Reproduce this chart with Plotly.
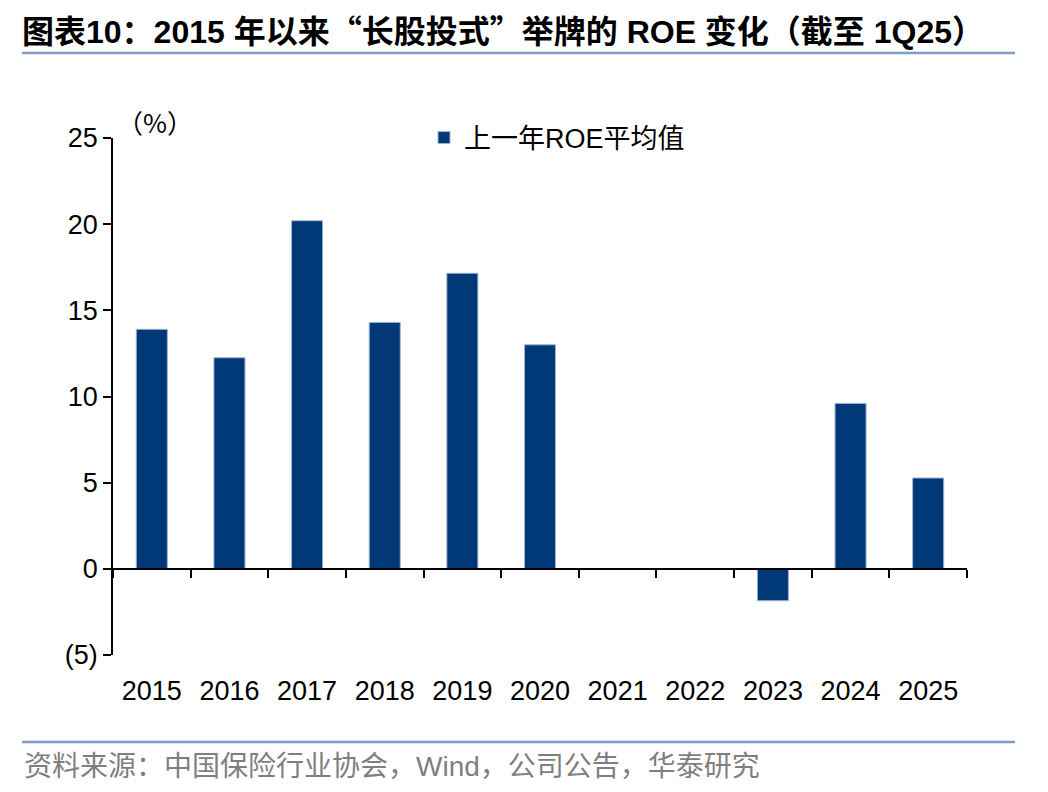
import plotly.graph_objects as go

years = ["2015", "2016", "2017", "2018", "2019", "2020", "2021", "2022", "2023", "2024", "2025"]
roe = [13.9, 12.25, 20.2, 14.3, 17.15, 13.0, None, None, -1.85, 9.6, 5.27]
series_name = "上一年ROE平均值"
y_tickvals = [-5, 0, 5, 10, 15, 20, 25]
y_ticktext = ["(5)", "0", "5", "10", "15", "20", "25"]
CJK = "Noto Sans CJK SC, Liberation Sans, sans-serif"
title_text = ("图表10：2015 年以来<span style=\"font-family:'Noto Sans CJK SC'\">“</span>长股投式"
              "<span style=\"font-family:'Noto Sans CJK SC'\">”</span>举牌的 ROE 变化（截至 1Q25）")
source_text = "资料来源：中国保险行业协会，Wind，公司公告，华泰研究"
unit_text = "（%）"

OFF = 8  # page body margin
W, H = 1048 - OFF, 792 - OFF
L, R, T, B = 113 - OFF, 81, 138 - OFF, 137
pw, ph = W - L - R, H - T - B

def px(x):
    return (x - OFF - L) / pw

def py(y):
    return (H - B - (y - OFF)) / ph

FONT = "Liberation Sans, Arial, Noto Sans CJK SC, sans-serif"
BAR = "#003878"

fig = go.Figure()
fig.add_trace(go.Bar(
    x=years, y=roe, name=series_name,
    marker=dict(color=BAR, line=dict(color="#9fb4d2", width=1)),
    width=0.4, showlegend=True,
))
fig.add_trace(go.Scatter(
    x=years, y=roe, xaxis="x2", mode="none", showlegend=False, hoverinfo="skip",
))

fig.update_layout(
    width=W, height=H,
    margin=dict(l=L, r=R, t=T, b=B),
    paper_bgcolor="white", plot_bgcolor="white",
    font=dict(family=FONT, color="black", size=27),
    title=dict(
        text=title_text, x=(22 - OFF) / W, xanchor="left", xref="container",
        y=1 - (32 - OFF) / H, yanchor="middle", yref="container",
        font=dict(family=FONT, size=32, color="black", weight="bold"),
    ),
    xaxis=dict(
        type="category", range=[-0.5, 10.5], showline=False, showgrid=False,
        zeroline=False, ticks="outside", ticklen=12, tickcolor="rgba(0,0,0,0)",
        tickfont=dict(size=27, color="black"),
    ),
    xaxis2=dict(
        type="category", range=[-0.5, 10.5], overlaying="x", anchor="free",
        position=(0 - (-5)) / 30, showline=True, linecolor="black", linewidth=1.5,
        ticks="outside", ticklen=8, tickwidth=1.5, tickcolor="black",
        tickson="boundaries", showticklabels=False, showgrid=False, zeroline=False,
    ),
    yaxis=dict(
        range=[-5, 25], tickvals=y_tickvals, ticktext=y_ticktext,
        showline=True, linecolor="black", linewidth=1.5,
        ticks="outside", ticklen=8, tickwidth=1.5, tickcolor="black",
        showgrid=False, zeroline=False, tickfont=dict(size=27, color="black"),
    ),
    legend=dict(
        orientation="h", x=px(424), xanchor="left", y=1.0, yanchor="middle",
        font=dict(size=27, color="black"), bgcolor="rgba(0,0,0,0)",
    ),
    bargap=0.6,
    showlegend=True,
)

line_color = "#7f9cc4"
fig.add_shape(type="line", xref="paper", yref="paper",
              x0=px(22), x1=px(1015), y0=py(53), y1=py(53),
              line=dict(color=line_color, width=2.5))
fig.add_shape(type="line", xref="paper", yref="paper",
              x0=px(22), x1=px(1015), y0=py(742), y1=py(742),
              line=dict(color=line_color, width=2.5))

fig.add_annotation(text=source_text, xref="paper", yref="paper",
                   x=px(22), xanchor="left", y=py(766), yanchor="middle",
                   showarrow=False, font=dict(size=28, color="#7f7f7f", family=FONT))
fig.add_annotation(text=unit_text, xref="paper", yref="paper",
                   x=px(155), xanchor="center", y=py(122), yanchor="middle",
                   showarrow=False, font=dict(size=26, color="black", family=CJK))

fig.write_html("out.html")
